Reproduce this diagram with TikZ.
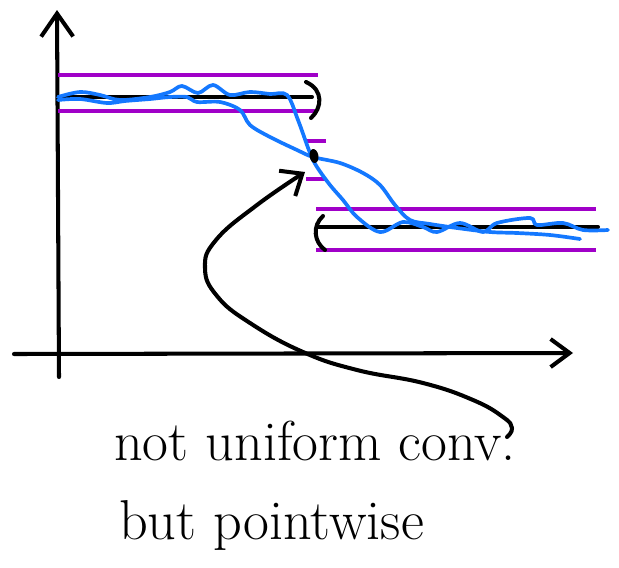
\documentclass[tikz,border=0pt]{standalone}
\usepackage{tikz}
\usetikzlibrary{arrows.meta, positioning, shapes.geometric}
\definecolor{bandcol}{RGB}{160,0,200}
\definecolor{fncol}{RGB}{20,120,255}

\tikzset{
  ink/.style={line width=2.3pt, line cap=round, line join=round},
  band/.style={line width=2.2pt, bandcol},
  fn/.style={ink, fncol, line width=2.1pt},
  hand/.style={font=\fontsize{32}{38}\selectfont, anchor=base west}
}

\begin{document}
\begin{tikzpicture}[x=0.02cm, y=-0.02cm]
  \useasboundingbox (0,0) rectangle (619,568);
  % axes
  \draw[ink, -{Straight Barb[length=4.6mm, width=6.4mm]}] (59,377) -- (57,10);
  \draw[ink, -{Straight Barb[length=3.8mm, width=5.6mm]}] (14,354) -- (573,353);
  % limit function with eps-bands
  \foreach \y in {75,111} \draw[band] (58,\y) -- (318,\y);
  \foreach \y in {209,250} \draw[band] (316,\y) -- (596,\y);
  \foreach \y in {141,179} \draw[band] (306,\y) -- (326,\y);
  \draw[ink] (59,97) -- (312,97);
  \draw[ink] (318,227) -- (598,227);
  \draw[ink] (306,82) .. controls (324,90) and (322,108) .. (311,118);
  \draw[ink] (323,216) .. controls (312,226) and (314,242) .. (325,250);
  % approximating functions
  \draw[fn] plot[smooth, tension=0.55] coordinates {(58,97) (80,92) (100,95) (120,100) (150,97) (170,92) (182,86) (198,93) (213,85) (230,95) (250,92) (270,94) (287,95) (298,120) (310,153) (317,167) (330,185) (343,200) (357,217) (380,232) (403,222) (423,227) (437,232) (460,223) (483,232) (497,223) (530,218) (537,225) (563,223) (583,230) (608,230)};
  \draw[fn] plot[smooth, tension=0.55] coordinates {(58,100) (80,99) (107,103) (125,101) (150,99) (170,97) (187,97) (197,102) (220,102) (240,110) (250,125) (270,137) (297,150) (313,157) (340,163) (363,173) (380,185) (395,205) (410,220) (430,224) (457,228) (490,232) (517,233) (550,235) (580,239)};
  \node[fill=black, ellipse, inner sep=0pt, minimum width=5pt, minimum height=8pt, rotate=10] (x0) at (314,156) {};
  % note
  \node[hand] (note) at (108,460) {not uniform conv.};
  \node[hand, below=1.6cm of note.base west, anchor=base west, xshift=0.1cm] (note2) {but pointwise};
  \coordinate (tail) at (507,437);
  \coordinate (tip) at (305,172);
  \draw[ink, -{Straight Barb[length=3.6mm, width=6mm]}] plot[smooth, tension=0.75] coordinates {(tail) (512,428) (503,417) (473,400) (423,383) (357,370) (303,352) (250,323) (217,296) (205,268) (216,240) (257,205) (tip)};
\end{tikzpicture}
\end{document}
